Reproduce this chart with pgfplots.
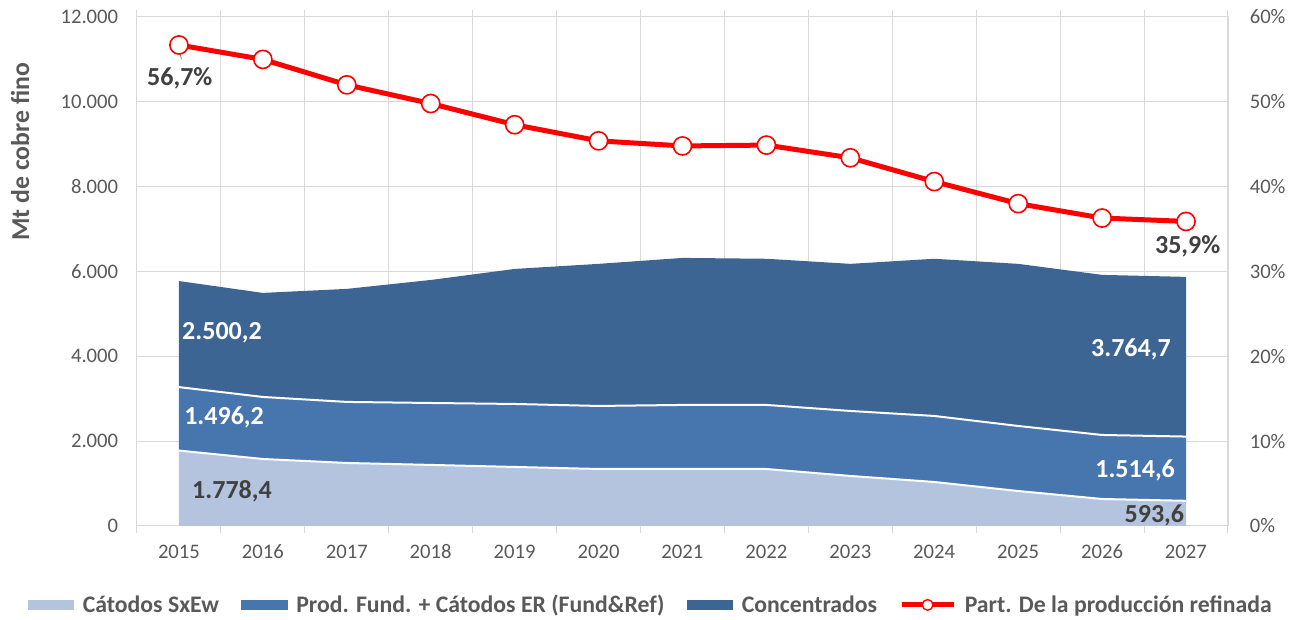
\documentclass[border=0pt]{standalone}
\usepackage{fontspec}
\setmainfont{Carlito}
\usepackage{pgfplots}
\usepackage{pgfplotstable}
\pgfplotsset{compat=1.18}

\definecolor{sxew}{HTML}{B4C4DF}
\definecolor{fund}{HTML}{4775AD}
\definecolor{conc}{HTML}{3C6594}
\definecolor{grd}{HTML}{D9D9D9}
\definecolor{txt}{HTML}{595959}
\definecolor{lbl}{HTML}{404040}

% Mt de cobre fino por origen
\pgfplotstableread{
year sxew fund conc
2015 1778.4 1496.2 2500.2
2016 1580 1462 2453
2017 1486 1439 2665
2018 1440 1460 2900
2019 1392 1485 3183
2020 1344 1486 3350
2021 1344 1510 3466
2022 1344 1510 3446
2023 1180 1532 3468
2024 1038 1556 3706
2025 825 1533 3822
2026 637 1509 3774
2027 593.6 1514.6 3764.7
}\proddata

% participacion de la produccion refinada (%)
\pgfplotstableread{
year part
2015 56.7
2016 55.0
2017 52.0
2018 49.8
2019 47.3
2020 45.4
2021 44.8
2022 44.9
2023 43.4
2024 40.6
2025 38.0
2026 36.3
2027 35.9
}\partdata

\newcommand\tickfont{\fontsize{15.5}{18}\selectfont}
\newcommand\lblfont{\fontsize{19.5}{22}\selectfont\bfseries}

\pgfplotsset{
  base/.style={
    scale only axis, width=818.25pt, height=381.75pt,
    xmin=2014.5, xmax=2027.5,
    /pgf/number format/assume math mode=true,
    tick label style={font=\tickfont, text=txt},
  },
}

\begin{document}
\begin{tikzpicture}
\begin{axis}[base,
  ymin=0, ymax=12000,
  stack plots=y,
  axis line style={grd, line width=0.75pt},
  tick align=outside,
  major tick length=0pt,
  minor tick length=5pt,
  xtick={2015,...,2027},
  minor xtick={2014.5,2015.5,...,2027.5},
  xminorgrids=true, ymajorgrids=true,
  grid style={grd, line width=0.75pt},
  minor tick style={grd, line width=0.75pt},
  ytick={0,2000,...,12000},
  scaled y ticks=false,
  xticklabel style={/pgf/number format/1000 sep={}, yshift=-10.5pt},
  yticklabel style={/pgf/number format/1000 sep={.}, xshift=-10.6pt},
  ylabel={Mt de cobre fino},
  ylabel style={at={(axis description cs:-0.107,0.735)}, anchor=center,
    font=\fontsize{19.3}{21}\selectfont\bfseries, text=txt},
  legend style={at={(0.4711,-0.155)}, anchor=center, legend columns=-1,
    draw=none, fill=none, font=\fontsize{17.8}{20}\selectfont\bfseries, text=txt,
    /tikz/every even column/.append style={column sep=14.5pt},
    /tikz/every odd column/.append style={column sep=4.5pt}},
]
\addplot[fill=sxew, draw=none,
  legend image code/.code={\fill[sxew] (0pt,-4pt) rectangle (35pt,4pt);}]
  table[x=year, y=sxew]{\proddata} \closedcycle;
\addlegendentry{Cátodos SxEw}
\addplot[fill=fund, draw=none,
  legend image code/.code={\fill[fund] (0pt,-4pt) rectangle (35pt,4pt);}]
  table[x=year, y=fund]{\proddata} \closedcycle;
\addlegendentry{Prod. Fund. + Cátodos ER (Fund\&Ref)}
\addplot[fill=conc, draw=none,
  legend image code/.code={\fill[conc] (0pt,-4pt) rectangle (35pt,4pt);}]
  table[x=year, y=conc]{\proddata} \closedcycle;
\addlegendentry{Concentrados}
\addlegendimage{legend image code/.code={
  \draw[red, line width=3.75pt] (0pt,0pt) -- (39pt,0pt);
  \draw[red, fill=white, line width=1pt] (19.5pt,0pt) circle (4pt);}}
\addlegendentry{Part. De la producción refinada}

\coordinate (sw) at (rel axis cs:0,0);
\end{axis}

% white borders between the stacked areas, and the value labels
\begin{axis}[base, ymin=0, ymax=12000, hide axis, stack plots=y]
\addplot[white, line width=1.5pt] table[x=year, y=sxew]{\proddata};
\addplot[white, line width=1.5pt] table[x=year, y=fund]{\proddata};

\node[anchor=west, inner sep=0pt, text=white, font=\lblfont] at (axis cs:2015.036,4552) {2.500,2};
\node[anchor=west, inner sep=0pt, text=white, font=\lblfont] at (axis cs:2015.06,2570) {1.496,2};
\node[anchor=west, inner sep=0pt, text=lbl, font=\lblfont] at (axis cs:2015.155,825) {1.778,4};
\node[anchor=east, inner sep=0pt, text=white, font=\lblfont] at (axis cs:2026.82,4174) {3.764,7};
\node[anchor=east, inner sep=0pt, text=white, font=\lblfont] at (axis cs:2026.87,1321) {1.514,6};
\node[anchor=east, inner sep=0pt, text=lbl, font=\lblfont] at (axis cs:2026.98,259) {593,6};
\end{axis}

% secondary axis: share of refined production
\begin{axis}[base,
  ymin=0, ymax=60,
  axis y line*=right, axis x line=none,
  y axis line style={grd, line width=0.75pt},
  ytick={0,10,...,60},
  major tick length=0pt,
  yticklabel={\pgfmathprintnumber{\tick}\%},
  yticklabel style={xshift=12.8pt},
  clip=false,
]
\addplot[red, line width=3.75pt, mark=*, mark size=6.8pt,
  mark options={fill=white, draw=red, line width=1.2pt}]
  table[x=year, y=part]{\partdata};
\draw[gray, line width=0.6pt] (axis cs:2015.0,56.3) -- (axis cs:2015.03,55.0);
\node[inner sep=0pt, text=lbl, font=\lblfont] at (axis cs:2015.01,52.8) {56,7\%};
\node[inner sep=0pt, text=lbl, font=\lblfont] at (axis cs:2027.02,33.0) {35,9\%};
\end{axis}

\pgfresetboundingbox
\path[use as bounding box] (sw) ++(-102.75pt,-70.5pt) rectangle ++(978pt,465pt);
\end{tikzpicture}
\end{document}
